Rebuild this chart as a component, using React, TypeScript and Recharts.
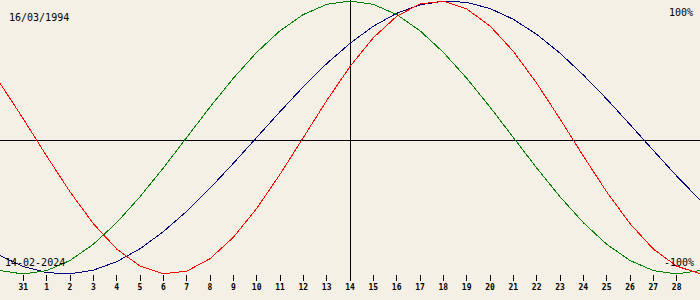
import { LineChart, Line, XAxis, YAxis, ReferenceLine } from 'recharts'

// days shown: 30 Jan .. 29 Feb 2024, index 0..30
const days = [0, 1, 2, 3, 4, 5, 6, 7, 8, 9, 10, 11, 12, 13, 14, 15, 16, 17, 18, 19, 20, 21, 22, 23, 24, 25, 26, 27, 28, 29, 30]
const dayLabels = ['30', '31', '1', '2', '3', '4', '5', '6', '7', '8', '9', '10', '11', '12', '13', '14', '15', '16', '17', '18', '19', '20', '21', '22', '23', '24', '25', '26', '27', '28', '29']
const tickDays = [1, 2, 3, 4, 5, 6, 7, 8, 9, 10, 11, 12, 13, 14, 15, 16, 17, 18, 19, 20, 21, 22, 23, 24, 25, 26, 27, 28, 29]

// percent values
const physical = [39.8, 13.6, -13.6, -39.8, -63.1, -81.7, -94.2, -99.8, -97.9, -88.8, -73.1, -52.0, -27.0, 0, 27.0, 52.0, 73.1, 88.8, 97.9, 99.8, 94.2, 81.7, 63.1, 39.8, 13.6, -13.6, -39.8, -63.1, -81.7, -94.2, -99.8]
const emotional = [-97.5, -100, -97.5, -90.1, -78.2, -62.4, -43.4, -22.3, 0, 22.3, 43.4, 62.4, 78.2, 90.1, 97.5, 100, 97.5, 90.1, 78.2, 62.4, 43.4, 22.3, 0, -22.3, -43.4, -62.4, -78.2, -90.1, -97.5, -100, -97.5]
const intellectual = [-86.6, -94.5, -99.0, -99.9, -97.2, -91.0, -81.5, -69.0, -54.1, -37.2, -18.9, 0, 18.9, 37.2, 54.1, 69.0, 81.5, 91.0, 97.2, 99.9, 99.0, 94.5, 86.6, 75.6, 61.8, 45.8, 28.2, 9.5, -9.5, -28.2, -45.8]

const birthDate = '16/03/1994'
const targetDate = '14-02-2024'
const selectedDay = 15

const data = days.map((d, i) => ({
  d,
  physical: physical[i],
  emotional: emotional[i],
  intellectual: intellectual[i],
}))

const bg = '#f4f0e5'
const mono = '"DejaVu Sans Mono", monospace'

export default function App() {
  return (
    <div style={{ position: 'relative', width: 700, height: 300, background: bg }}>
      <style>{`body{margin:0}`}</style>
      <LineChart width={700} height={300} data={data} margin={{ top: 0, right: 0, bottom: 0, left: 0 }}>
        <XAxis
          dataKey="d"
          type="number"
          domain={[0, 30]}
          ticks={tickDays}
          tickFormatter={(v: number) => dayLabels[v]}
          axisLine={false}
          tickLine={{ stroke: '#000', shapeRendering: 'crispEdges' }}
          tickSize={6}
          tickMargin={3}
          height={25}
          interval={0}
          tick={{ fontSize: 8, fontFamily: mono, fontWeight: 'bold', fill: '#000' }}
        />
        <YAxis hide domain={[-100.73, 100.73]} allowDataOverflow />
        <ReferenceLine y={-2.2} stroke="#000" shapeRendering="crispEdges" />
        <ReferenceLine x={selectedDay} stroke="#000" shapeRendering="crispEdges" />
        <Line type="linear" dataKey="intellectual" stroke="#000080" strokeWidth={1} shapeRendering="crispEdges" dot={false} activeDot={false} isAnimationActive={false} />
        <Line type="linear" dataKey="emotional" stroke="#008000" strokeWidth={1} shapeRendering="crispEdges" dot={false} activeDot={false} isAnimationActive={false} />
        <Line type="linear" dataKey="physical" stroke="#ff0000" strokeWidth={1} shapeRendering="crispEdges" dot={false} activeDot={false} isAnimationActive={false} />
      </LineChart>
      <svg width={700} height={300} style={{ position: 'absolute', left: 0, top: 0, pointerEvents: 'none' }}>
        <g fontFamily={mono} fontSize={10} fill="#000">
          <text x={9} y={21}>{birthDate}</text>
          <text x={693} y={16} textAnchor="end">100%</text>
          <text x={5} y={266}>{targetDate}</text>
          <text x={694} y={266} textAnchor="end">-100%</text>
        </g>
      </svg>
    </div>
  )
}
